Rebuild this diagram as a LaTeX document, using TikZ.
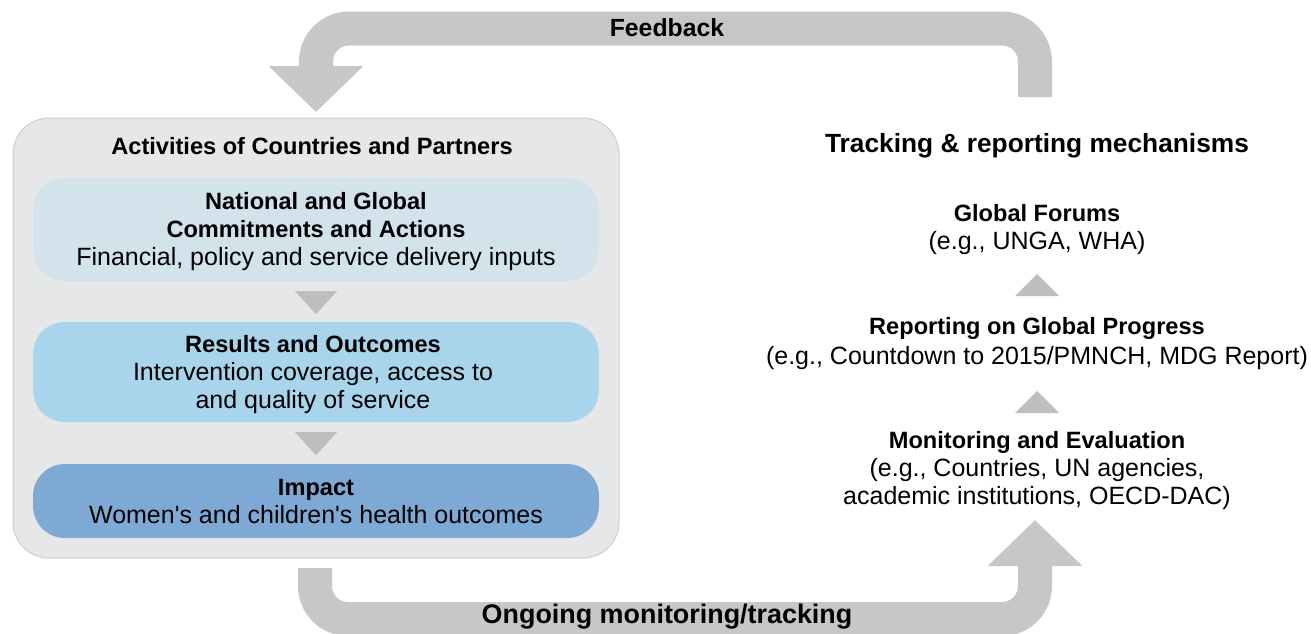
\documentclass[tikz,border=0pt]{standalone}
\usepackage{fontspec}
\setmainfont{Liberation Sans}
\usetikzlibrary{arrows.meta,calc}
\definecolor{bandgray}{HTML}{C6C7C9}
\definecolor{trigray}{HTML}{BCBEC0}
\definecolor{outerfill}{HTML}{E6E7E8}
\definecolor{outerline}{HTML}{CDCED0}
\definecolor{boxone}{HTML}{D2E3EB}
\definecolor{boxtwo}{HTML}{A8D5EB}
\definecolor{boxthree}{HTML}{7EA9D5}
\newcommand{\bt}[1]{{\fontsize{23.6}{28}\selectfont\bfseries #1}}
\begin{document}
\begin{tikzpicture}[x=1pt,y=-1pt,
  txt/.style={font=\fontsize{25}{28}\selectfont, align=center, inner sep=0pt},
  band/.style={draw=bandgray, line width=34pt, rounded corners=33pt, -{Triangle[width=92pt,length=46pt]}},
  stagebox/.style={fill=#1, draw=none, rounded corners=32pt, minimum width=566pt, align=center, font=\fontsize{25}{28}\selectfont, inner sep=0pt},
  tri/.style={fill=trigray, draw=none}
]
\useasboundingbox (0,0) rectangle (1311,633);

% outer box
\node[fill=outerfill, draw=outerline, line width=1pt, rounded corners=36pt, minimum width=606pt, minimum height=440pt] (outer) at (316,338) {};
\node[txt] (acttitle) at (312,146) {\bt{Activities of Countries and Partners}};

\node[stagebox=boxone, minimum height=103pt] (b1) at (316,229.5) {};
\node[txt] (b1text) at (316,232) {\bt{National and Global}\\\bt{Commitments and Actions}\\Financial, policy and service delivery inputs};
\node[stagebox=boxtwo, minimum height=100pt] (b2) at (316,372) {};
\node[txt] (b2text) at (313,374.5) {\bt{Results and Outcomes}\\Intervention coverage, access to\\and quality of service};
\node[stagebox=boxthree, minimum height=74pt] (b3) at (316,501) {};
\node[txt] (b3text) at (316,501.5) {\bt{Impact}\\Women\textquotesingle s and children\textquotesingle s health outcomes};

\fill[tri] ($(b1.south)+(-21,10)$) -- ($(b1.south)+(21,10)$) -- ($(b1.south)+(0,33)$) -- cycle;
\fill[tri] ($(b2.south)+(-21,10)$) -- ($(b2.south)+(21,10)$) -- ($(b2.south)+(0,33)$) -- cycle;

% right column
\node[txt, font=\bfseries\fontsize{26.3}{28}\selectfont] (tracktitle) at (1037,146) {Tracking \& reporting mechanisms};
\node[txt] (gf) at (1037,230) {\bt{Global Forums}\\(e.g., UNGA, WHA)};
\node[txt, font=\fontsize{25}{30}\selectfont] (rp) at (1037,344) {\bt{Reporting on Global Progress}\\(e.g., Countdown to 2015/PMNCH, MDG Report)};
\node[txt] (me) at (1037,471) {\bt{Monitoring and Evaluation}\\(e.g., Countries, UN agencies,\\academic institutions, OECD-DAC)};

\fill[tri] (1015,296) -- (1059,296) -- (1037,274) -- cycle;
\fill[tri] (1015,413) -- (1059,413) -- (1037,391) -- cycle;

% feedback band
\coordinate (fbstart) at (1035,97);
\coordinate (fbend) at (316,112);
\draw[band] (fbstart) -- (1035,28.5) -- (316,28.5) -- (fbend);
\node[txt, font=\bfseries\fontsize{24.8}{28}\selectfont] (fblabel) at (667,28) {Feedback};

% monitoring band
\coordinate (mbstart) at (315,568);
\coordinate (mbend) at (1035,520);
\draw[band] (mbstart) -- (315,619) -- (1035,619) -- (mbend);
\node[txt, font=\bfseries\fontsize{26.9}{28}\selectfont] (mblabel) at (667,617) {Ongoing monitoring/tracking};
\end{tikzpicture}
\end{document}
